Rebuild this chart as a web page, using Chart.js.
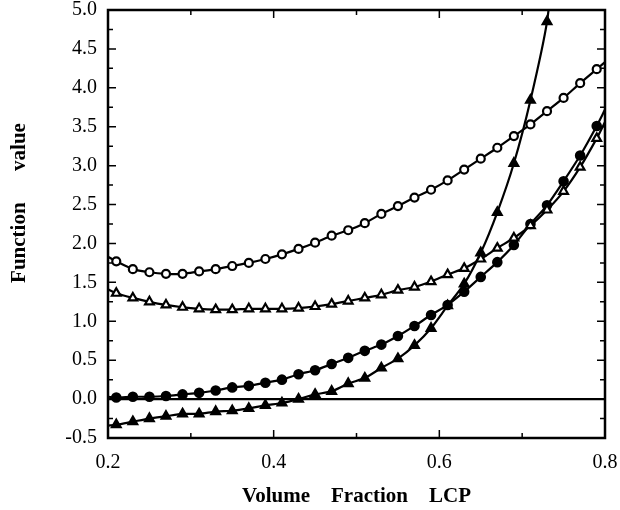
<!DOCTYPE html>
<html>
<head>
<meta charset="utf-8">
<script src="https://cdn.jsdelivr.net/npm/chart.js@4/dist/chart.umd.min.js"></script>
<style>
  html, body { margin: 0; padding: 0; background: #ffffff; }
  #wrap { width: 620px; height: 510px; }
</style>
</head>
<body>
<div id="wrap"><canvas id="c" width="620" height="510"></canvas></div>
<script>
// x positions of the plotted markers
const xMarks = [0.21,0.23,0.25,0.27,0.29,0.31,0.33,0.35,0.37,0.39,0.41,0.43,0.45,0.47,0.49,0.51,0.53,0.55,0.57,0.59,0.61,0.63,0.65,0.67,0.69,0.71,0.73,0.75,0.77,0.79];

// open circles (top curve)
const seriesOpenCircle = [1.77,1.67,1.63,1.61,1.61,1.64,1.67,1.71,1.75,1.80,1.86,1.93,2.01,2.10,2.17,2.26,2.38,2.48,2.59,2.69,2.81,2.95,3.09,3.23,3.38,3.53,3.70,3.87,4.06,4.24];
const endsOpenCircle = [[0.2,1.83],[0.8,4.33]];

// open triangles
const seriesOpenTri = [1.36,1.30,1.25,1.21,1.18,1.16,1.15,1.15,1.16,1.16,1.16,1.17,1.19,1.22,1.26,1.30,1.34,1.40,1.44,1.51,1.60,1.68,1.80,1.94,2.07,2.23,2.43,2.67,2.98,3.35];
const endsOpenTri = [[0.2,1.41],[0.8,3.56]];

// filled circles
const seriesFilledCircle = [0.02,0.03,0.03,0.04,0.06,0.08,0.11,0.15,0.17,0.21,0.25,0.32,0.37,0.45,0.53,0.62,0.70,0.81,0.94,1.08,1.21,1.38,1.57,1.76,1.98,2.25,2.49,2.80,3.13,3.51];
const endsFilledCircle = [[0.2,0.03],[0.8,3.72]];

// filled triangles (steep curve)
const seriesFilledTri = [-0.33,-0.29,-0.25,-0.22,-0.19,-0.19,-0.16,-0.15,-0.12,-0.08,-0.05,0.00,0.06,0.10,0.20,0.27,0.40,0.52,0.69,0.91,1.20,1.48,1.88,2.40,3.03,3.84,4.85];
const endsFilledTri = [[0.2,-0.34],[0.74,5.9]];

// horizontal reference line
const zeroLineX = [0.2, 0.8];
const zeroLineY = [0, 0];

const xTitle = 'Volume    Fraction    LCP';
const yTitle = '        Function      value';

function build(vals, ends) {
  const pts = [{x: ends[0][0], y: ends[0][1], edge: true}];
  vals.forEach((v, i) => pts.push({x: xMarks[i], y: v}));
  pts.push({x: ends[1][0], y: ends[1][1], edge: true});
  return pts;
}

function isMajorX(v) { return Math.round(v * 10) % 2 === 0; }
function isMajorY(v) { return Math.round(v * 4) % 2 === 0; }

const frameTicks = {
  id: 'frameTicks',
  afterDatasetsDraw(chart) {
    const {ctx, chartArea: a, scales: {x, y}} = chart;
    ctx.save();
    ctx.strokeStyle = '#000';
    ctx.lineWidth = 1.5;
    x.ticks.forEach(t => {
      const px = x.getPixelForValue(t.value);
      const L = isMajorX(t.value) ? 8 : 5;
      ctx.beginPath();
      ctx.moveTo(px, a.bottom); ctx.lineTo(px, a.bottom - L);
      ctx.moveTo(px, a.top); ctx.lineTo(px, a.top + L);
      ctx.stroke();
    });
    y.ticks.forEach(t => {
      const py = y.getPixelForValue(t.value);
      const L = isMajorY(t.value) ? 8 : 5;
      ctx.beginPath();
      ctx.moveTo(a.left, py); ctx.lineTo(a.left + L, py);
      ctx.moveTo(a.right, py); ctx.lineTo(a.right - L, py);
      ctx.stroke();
    });
    ctx.lineWidth = 2.5;
    ctx.strokeRect(a.left, a.top, a.right - a.left, a.bottom - a.top);
    ctx.restore();
  }
};

const radiusFn = r => ctx => (ctx.raw && ctx.raw.edge) ? 0 : r;

const common = {
  borderColor: '#000',
  borderWidth: 2.2,
  tension: 0.25,
  pointBorderColor: '#000',
  pointBorderWidth: 2.2,
  pointHoverRadius: 0,
  showLine: true
};

new Chart(document.getElementById('c'), {
  type: 'scatter',
  data: {
    datasets: [
      Object.assign({}, common, {
        label: 'zero',
        data: zeroLineX.map((xv, i) => ({x: xv, y: zeroLineY[i]})),
        pointRadius: 0,
        tension: 0
      }),
      Object.assign({}, common, {
        label: 'open circles',
        data: build(seriesOpenCircle, endsOpenCircle),
        pointStyle: 'circle',
        pointRadius: radiusFn(4),
        pointBackgroundColor: '#fff'
      }),
      Object.assign({}, common, {
        label: 'open triangles',
        data: build(seriesOpenTri, endsOpenTri),
        pointStyle: 'triangle',
        pointRadius: radiusFn(5),
        pointBackgroundColor: '#fff'
      }),
      Object.assign({}, common, {
        label: 'filled circles',
        data: build(seriesFilledCircle, endsFilledCircle),
        pointStyle: 'circle',
        pointRadius: radiusFn(4.2),
        pointBackgroundColor: '#000'
      }),
      Object.assign({}, common, {
        label: 'filled triangles',
        data: build(seriesFilledTri, endsFilledTri),
        pointStyle: 'triangle',
        pointRadius: radiusFn(5),
        pointBackgroundColor: '#000'
      })
    ]
  },
  options: {
    responsive: false,
    animation: false,
    events: [],
    layout: { padding: { top: 10, right: 15, left: 0, bottom: 0 } },
    plugins: { legend: { display: false }, tooltip: { enabled: false } },
    scales: {
      x: {
        type: 'linear',
        min: 0.2, max: 0.8,
        afterFit: s => { s.height = 72; s.paddingLeft = 0; s.paddingRight = 0; },
        grid: { display: false, drawTicks: false },
        border: { display: false },
        ticks: {
          stepSize: 0.1,
          autoSkip: false,
          maxRotation: 0,
          padding: 13,
          color: '#000',
          font: { family: 'Liberation Serif', size: 20 },
          callback: v => isMajorX(v) ? v.toFixed(1) : ''
        },
        title: {
          display: true,
          text: xTitle,
          color: '#000',
          font: { family: 'Liberation Serif', size: 21, weight: 'bold' },
          padding: { top: 0, bottom: 1 }
        }
      },
      y: {
        type: 'linear',
        min: -0.5, max: 5.0,
        afterFit: s => { s.width = 108; s.paddingTop = 0; s.paddingBottom = 0; },
        grid: { display: false, drawTicks: false },
        border: { display: false },
        ticks: {
          stepSize: 0.25,
          autoSkip: false,
          padding: 11,
          color: '#000',
          font: { family: 'Liberation Serif', size: 20 },
          callback: v => isMajorY(v) ? v.toFixed(1) : ''
        },
        title: {
          display: true,
          text: yTitle,
          color: '#000',
          font: { family: 'Liberation Serif', size: 21, weight: 'bold' },
          padding: { top: 7, bottom: 0 }
        }
      }
    }
  },
  plugins: [frameTicks]
});
</script>
</body>
</html>
